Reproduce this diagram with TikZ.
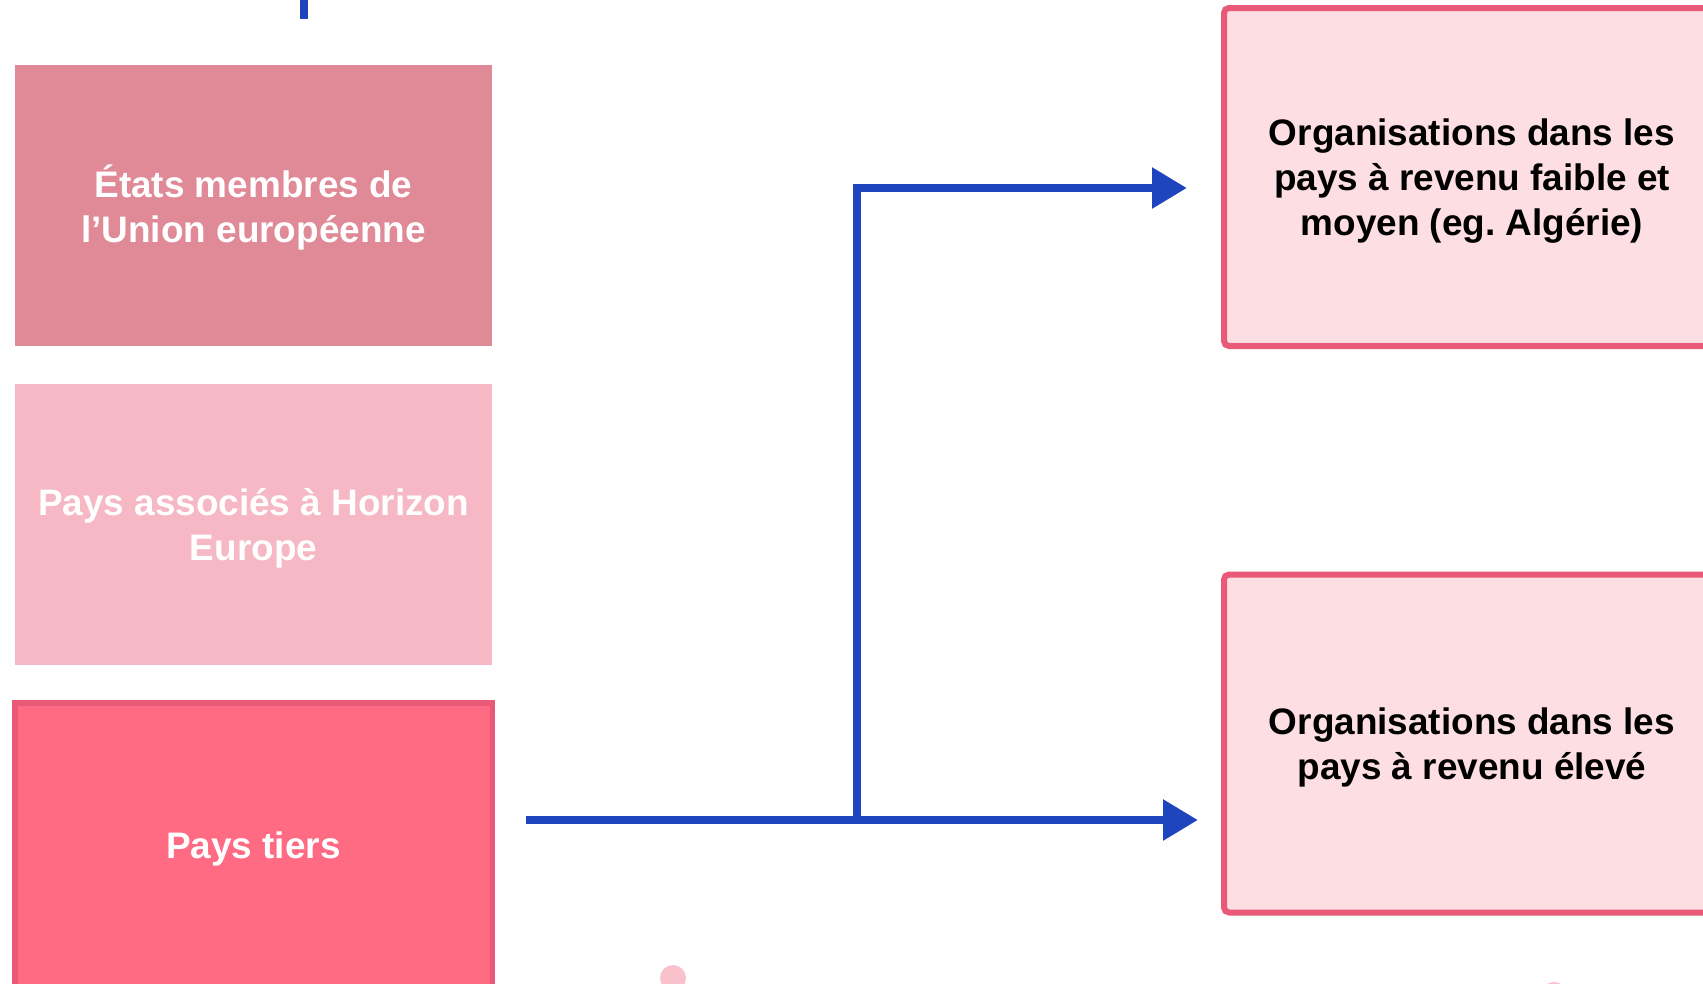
\documentclass[tikz,border=0pt]{standalone}
\usepackage{fontspec}
\setmainfont{Liberation Sans}
\setsansfont{Liberation Sans}
\usepackage{tikz}
\tikzset{every picture/.style={/utils/exec={\sffamily}}}
\usetikzlibrary{calc, positioning, arrows.meta}
\definecolor{EU_rose}{RGB}{224,138,151}
\definecolor{Assoc_pink}{RGB}{245,184,196}
\definecolor{Tier_red}{RGB}{255,107,131}
\definecolor{Edge_red}{RGB}{232,90,119}
\definecolor{Org_pink}{RGB}{252,222,227}
\definecolor{Flow_blue}{RGB}{30,68,190}
\definecolor{Dot_pink}{RGB}{249,193,204}
\newcommand{\boxtext}[1]{\raisebox{-1.3pt}[\height][\depth]{\begin{tabular}{@{}c@{}}#1\end{tabular}}}
\tikzset{
  box/.style={rectangle, inner sep=0pt, font=\bfseries\fontsize{10.5}{12.8}\selectfont},
  leftbox/.style={box, minimum width=4.77cm, minimum height=2.81cm, text=white},
  rightbox/.style={box, draw=Edge_red, line width=0.6mm, fill=Org_pink, rounded corners=0.5mm, minimum width=4.96cm, minimum height=3.38cm},
  flowline/.style={Flow_blue, line width=0.087cm},
  flowarrow/.style={flowline, -{Triangle[length=3.5mm, width=3.9mm]}}
}

\begin{document}
\begin{tikzpicture}
            \fill[white] (0cm, 0cm) rectangle (17.03cm, -9.83cm);
            \useasboundingbox (0cm, 0cm) rectangle (17.03cm, -9.83cm);
            % left column
            \node[leftbox, fill=EU_rose] (eu) at (2.535cm, -2.055cm) {\boxtext{États membres de\\l’Union européenne}};
            \node[leftbox, fill=Assoc_pink] (assoc) at (2.535cm, -5.24cm) {\boxtext{Pays associés à Horizon\\Europe}};
            \node[leftbox, fill=Tier_red, draw=Edge_red, line width=0.55mm, minimum width=4.775cm, minimum height=2.845cm] (tiers) at (2.535cm, -8.45cm) {\boxtext{Pays tiers}};
            % right column
            \node[rightbox] (low) at (14.72cm, -1.77cm) {\boxtext{Organisations dans les\\pays à revenu faible et\\moyen (eg.\ Algérie)}};
            \node[rightbox] (high) at (14.72cm, -7.435cm) {\boxtext{Organisations dans les\\pays à revenu élevé}};
            % connectors
            \coordinate (stubtop) at (3.04cm, 0.05cm);
            \coordinate (stubend) at (3.04cm, -0.19cm);
            \coordinate (start) at (5.26cm, -8.20cm);
            \coordinate (split) at (8.57cm, -8.20cm);
            \coordinate (lowin) at (11.87cm, -1.88cm);
            \coordinate (highin) at (11.98cm, -8.20cm);
            \draw[flowline] (stubtop) -- (stubend);
            \draw[flowarrow] (start) -- (highin);
            \draw[flowarrow] (split) |- (lowin);
            % dots
            \fill[Dot_pink] (6.73cm, -9.78cm) circle (0.13cm);
            \fill[Dot_pink] (15.54cm, -9.95cm) circle (0.13cm);
        \end{tikzpicture}
\end{document}
